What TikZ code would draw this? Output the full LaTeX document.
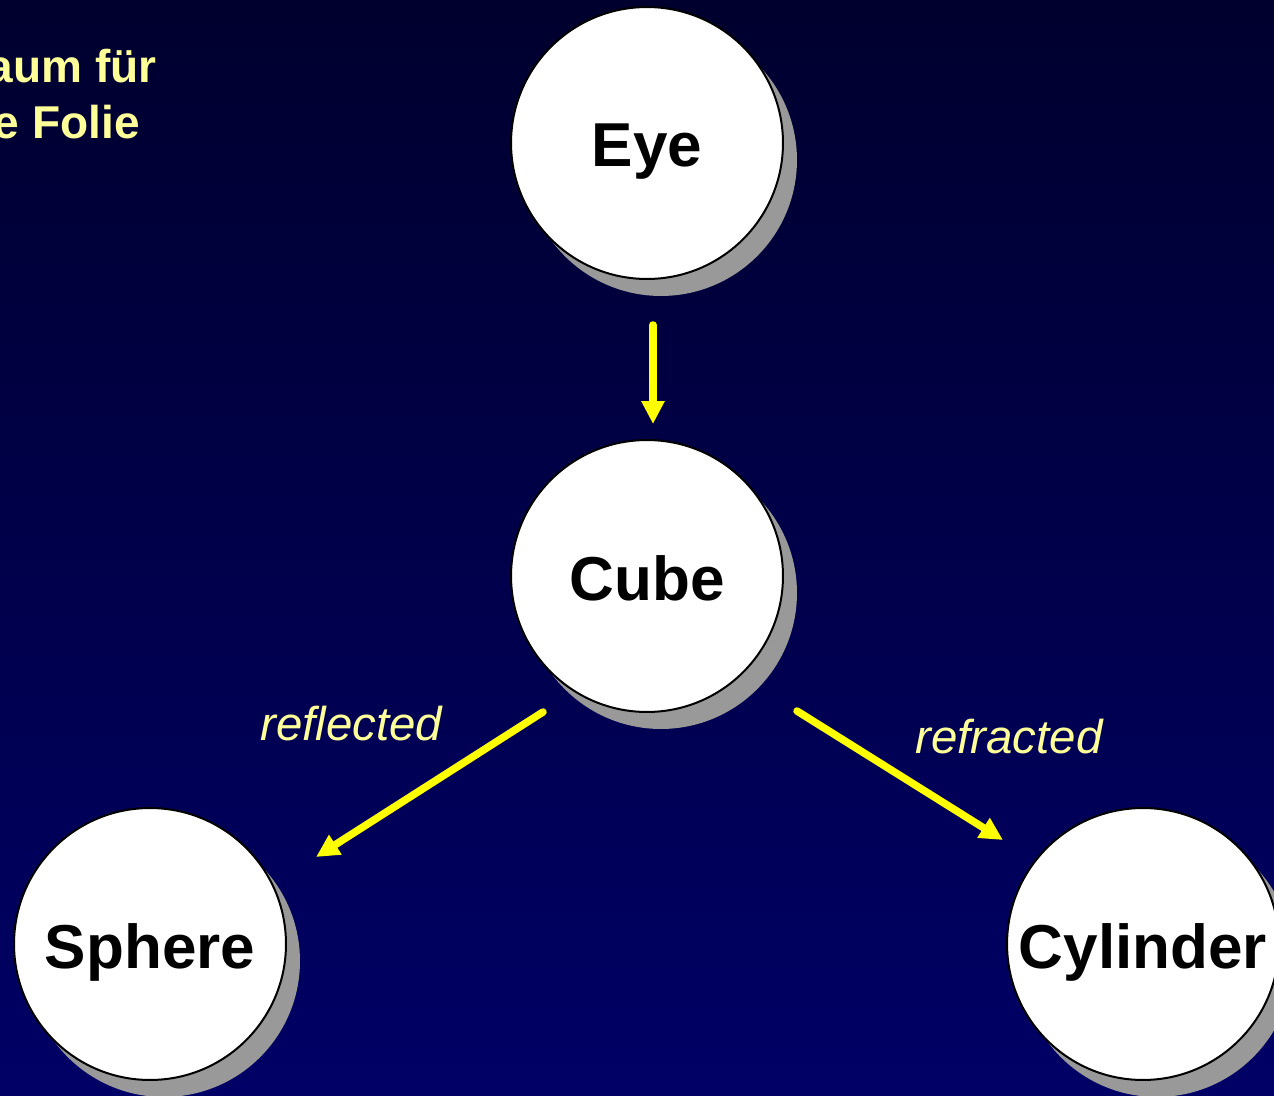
\documentclass[tikz,border=0pt]{standalone}
\usepackage{fontspec}
\setmainfont{Liberation Sans}
\usetikzlibrary{arrows.meta,shadows}
\definecolor{bgtop}{HTML}{00002E}
\definecolor{bgbot}{HTML}{000066}
\definecolor{lbl}{HTML}{FFFF99}
\definecolor{shad}{HTML}{999999}
\definecolor{rayc}{HTML}{FFFF00}
\tikzset{
 ball/.style={circle, draw=black, line width=0.04cm, fill=white, minimum size=5.44cm, inner sep=0pt,
   general shadow={fill=shad, shadow xshift=0.28cm, shadow yshift=-0.34cm}},
 balltext/.style={anchor=base, inner sep=0pt, text=black, font=\fontsize{35.3}{40}\selectfont\bfseries},
 ray/.style={draw=rayc, line width=0.15cm, line cap=round, -{Triangle[length=0.46cm,width=0.44cm]}},
 raylabel/.style={text=lbl, font=\fontsize{27}{32}\selectfont\itshape, anchor=base west, inner sep=0pt},
 titletext/.style={text=lbl, font=\fontsize{26.2}{31.3}\selectfont\bfseries, anchor=base east, inner sep=0pt}
}
\begin{document}
\begin{tikzpicture}[x=0.02cm,y=-0.02cm]
\useasboundingbox (0,0) rectangle (1274,1095);
\clip (0,0) rectangle (1274,1095);
\shade[top color=bgtop, bottom color=bgbot] (0,0) rectangle (1274,1095);
% title remnant
\node[titletext] (t1) at (157,83) {aum für};
\node[titletext] (t2) at (140,138) {e Folie};
% balls
\node[ball] (eye) at (647,143) {};
\node[ball] (cube) at (647,576) {};
\node[ball] (sphere) at (150,944) {};
\node[ball] (cyl) at (1143,944) {};
\node[balltext] (eyet) at ([yshift=-0.48cm]eye.center) {Eye};
\node[balltext] (cubet) at ([yshift=-0.48cm]cube.center) {Cube};
\node[balltext] (spht) at ([yshift=-0.48cm]sphere.center) {Sphere};
\node[balltext] (cylt) at ([yshift=-0.48cm]cyl.center) {Cylinder};
% ray end points
\coordinate (e1) at (653,325);
\coordinate (e2) at (653,424);
\coordinate (r1) at (543,712);
\coordinate (r2) at (316,857);
\coordinate (f1) at (797,711);
\coordinate (f2) at (1003,840);
\draw[ray] (e1) -- (e2);
\draw[ray] (r1) -- (r2);
\draw[ray] (f1) -- (f2);
\node[raylabel] (rl) at (260,740) {reflected};
\node[raylabel] (fl) at (915,753) {refracted};
\end{tikzpicture}
\end{document}
